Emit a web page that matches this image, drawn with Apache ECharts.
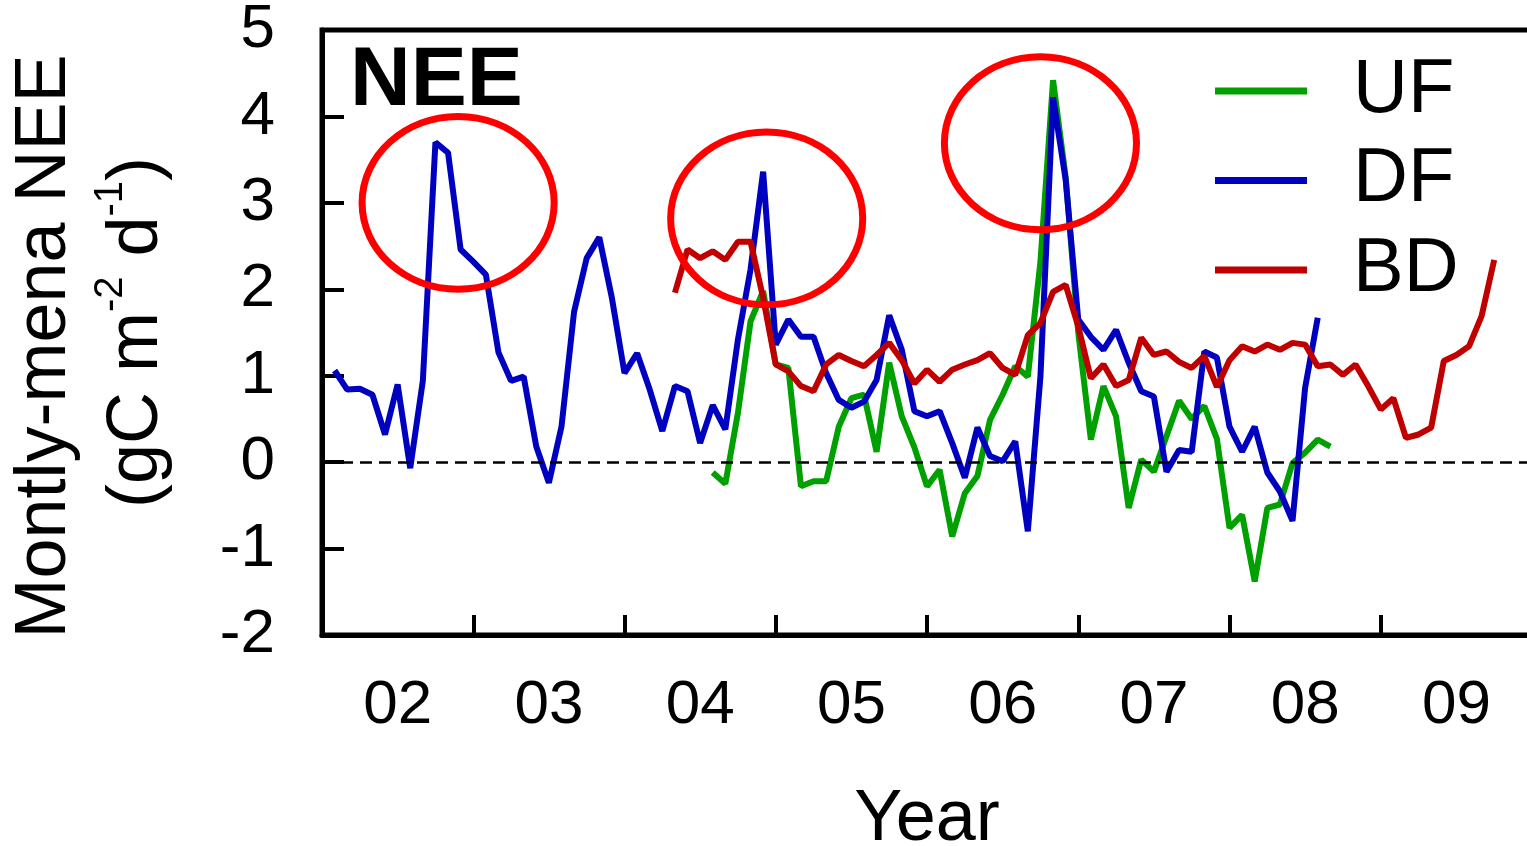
<!DOCTYPE html>
<html>
<head>
<meta charset="utf-8">
<script src="https://cdn.jsdelivr.net/npm/echarts@6/dist/echarts.min.js"></script>
<style>html,body{margin:0;padding:0;background:#fff;}</style>
</head>
<body>
<div id="main" style="width:1527px;height:846px;"></div>
<script type="text/javascript">
// monthly NEE, month index counted from Jan 2002 (0 = Jan 2002)
var baseYear = 2002;

var ufStart = 31;
var uf = [-0.12, -0.25, 0.57, 1.63, 1.98, 1.13, 1.09, -0.28, -0.22, -0.22,
          0.41, 0.74, 0.78, 0.12, 1.15, 0.53, 0.17, -0.28, -0.09, -0.86,
          -0.36, -0.16, 0.49, 0.78, 1.11, 0.99, 2.32, 4.42, 3.30, 1.50,
          0.26, 0.88, 0.53, -0.53, 0.03, -0.11, 0.30, 0.71, 0.50, 0.65,
          0.27, -0.76, -0.61, -1.38, -0.53, -0.49, -0.01, 0.11, 0.26, 0.18];

var dfStart = 1;
var df = [1.06, 0.84, 0.85, 0.78, 0.32, 0.90, -0.07, 0.94, 3.70, 3.58,
          2.46, 2.32, 2.17, 1.27, 0.94, 0.99, 0.18, -0.24, 0.41, 1.74,
          2.36, 2.60, 1.90, 1.03, 1.26, 0.84, 0.36, 0.88, 0.82, 0.22,
          0.66, 0.38, 1.42, 2.23, 3.36, 1.36, 1.65, 1.45, 1.45, 1.03,
          0.72, 0.63, 0.70, 0.95, 1.70, 1.30, 0.59, 0.53, 0.59, 0.22,
          -0.18, 0.40, 0.07, 0.01, 0.24, -0.80, 0.99, 4.22, 3.27, 1.65,
          1.45, 1.30, 1.53, 1.15, 0.82, 0.76, -0.11, 0.14, 0.12, 1.28,
          1.21, 0.41, 0.12, 0.41, -0.12, -0.34, -0.68, 0.86, 1.67];

var bdStart = 28;
var bd = [1.96, 2.46, 2.36, 2.44, 2.34, 2.55, 2.55, 1.90, 1.13, 1.05,
          0.88, 0.82, 1.13, 1.24, 1.17, 1.11, 1.24, 1.38, 1.18, 0.91,
          1.07, 0.93, 1.07, 1.13, 1.18, 1.26, 1.09, 1.01, 1.47, 1.61,
          1.97, 2.05, 1.57, 0.97, 1.13, 0.88, 0.95, 1.44, 1.24, 1.28,
          1.16, 1.09, 1.23, 0.87, 1.18, 1.34, 1.28, 1.36, 1.30, 1.38,
          1.36, 1.11, 1.13, 1.01, 1.13, 0.88, 0.61, 0.74, 0.28, 0.32,
          0.40, 1.17, 1.24, 1.34, 1.69, 2.34];

var yearLabels = ['02', '03', '04', '05', '06', '07', '08', '09'];
var yearLabelPos = [2002.5, 2003.5, 2004.5, 2005.5, 2006.5, 2007.5, 2008.5, 2009.5];

// red rings: centre (year, value) and half sizes in data units
var ringX = [2002.90, 2004.94, 2006.75];
var ringY = [3.00, 2.82, 3.69];
var ringRx = 0.635;
var ringRy = 1.0;

var font = "'Liberation Sans', Arial, sans-serif";

function toPairs(start, vals) {
    return vals.map(function (v, i) {
        return [baseYear + (start + i) / 12, v];
    });
}

var chart = echarts.init(document.getElementById('main'));

var option = {
    backgroundColor: '#fff',
    animation: false,
    textStyle: { fontFamily: font, color: '#000' },
    title: {
        text: 'NEE',
        left: 350,
        top: 40,
        padding: 0,
        textStyle: { fontSize: 84, fontWeight: 'bold', color: '#000', fontFamily: font }
    },
    legend: {
        data: ['UF', 'DF', 'BD'],
        orient: 'vertical',
        left: 1215,
        top: 51,
        padding: 0,
        icon: 'rect',
        itemWidth: 92,
        itemHeight: 7,
        itemGap: 9.5,
        textStyle: { fontSize: 76, lineHeight: 80, color: '#000', fontFamily: font, padding: [0, 0, 0, 41] }
    },
    grid: {
        left: 322,
        top: 30,
        width: 1210,
        height: 605,
        outerBoundsMode: 'none',
        containLabel: false,
        show: true,
        borderColor: '#000',
        borderWidth: 5,
        backgroundColor: 'transparent'
    },
    xAxis: {
        type: 'value',
        min: 2002,
        max: 2010,
        interval: 1,
        name: 'Year',
        nameLocation: 'middle',
        nameGap: 149,
        nameMoveOverlap: false,
        nameTextStyle: { fontSize: 72, color: '#000', fontFamily: font },
        axisLine: { onZero: false, lineStyle: { color: '#000', width: 5 } },
        axisTick: { inside: true, length: 20, lineStyle: { color: '#000', width: 4 } },
        splitLine: { show: false },
        axisLabel: {
            customValues: yearLabelPos,
            margin: 40,
            fontSize: 62,
            color: '#000',
            fontFamily: font,
            formatter: function (v) {
                var i = yearLabelPos.indexOf(v);
                return i >= 0 ? yearLabels[i] : '';
            }
        }
    },
    yAxis: {
        type: 'value',
        min: -2,
        max: 5,
        interval: 1,
        name: '{l1|Montly-mena NEE}\n(gC m{sup|-2} d{sup|-1})',
        nameLocation: 'middle',
        nameRotate: 90,
        nameGap: 139,
        nameMoveOverlap: false,
        nameTextStyle: {
            fontSize: 72,
            lineHeight: 92,
            color: '#000',
            fontFamily: font,
            rich: {
                l1: { fontSize: 72, lineHeight: 92, color: '#000', fontFamily: font, padding: [0, 28, 0, 0] },
                sup: { fontSize: 40, lineHeight: 40, verticalAlign: 'top', color: '#000', fontFamily: font }
            }
        },
        axisLine: { lineStyle: { color: '#000', width: 5 } },
        axisTick: { inside: true, length: 22, lineStyle: { color: '#000', width: 4 } },
        splitLine: { show: false },
        axisLabel: { margin: 47, fontSize: 62, color: '#000', fontFamily: font }
    },
    series: [
        {
            name: 'UF',
            type: 'line',
            color: '#00a000',
            data: toPairs(ufStart, uf),
            showSymbol: false,
            symbol: 'none',
            lineStyle: { color: '#00a000', width: 6 }
        },
        {
            name: 'DF',
            type: 'line',
            color: '#0000c0',
            data: toPairs(dfStart, df),
            showSymbol: false,
            symbol: 'none',
            lineStyle: { color: '#0000c0', width: 6 },
            markLine: {
                silent: true,
                symbol: ['none', 'none'],
                label: { show: false },
                lineStyle: { color: '#000', type: [12, 7], width: 2.5 },
                emphasis: { disabled: true },
                data: [{ yAxis: 0 }]
            }
        },
        {
            name: 'BD',
            type: 'line',
            color: '#c00000',
            data: toPairs(bdStart, bd),
            showSymbol: false,
            symbol: 'none',
            lineStyle: { color: '#c00000', width: 6 }
        },
        {
            name: 'ring',
            type: 'custom',
            silent: true,
            z: 10,
            data: ringX.map(function (x, i) { return [x, ringY[i]]; }),
            renderItem: function (params, api) {
                var c = api.coord([api.value(0), api.value(1)]);
                var s = api.size([ringRx, ringRy]);
                return {
                    type: 'ellipse',
                    shape: { cx: c[0], cy: c[1], rx: s[0], ry: s[1] },
                    style: { fill: 'none', stroke: '#ff0000', lineWidth: 7 }
                };
            }
        }
    ]
};

chart.setOption(option);
</script>
</body>
</html>
